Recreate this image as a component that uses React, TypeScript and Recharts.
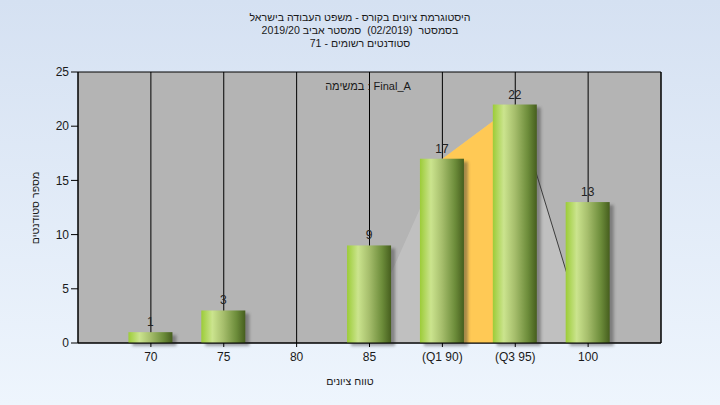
import React from "react";
import {
  ComposedChart,
  Bar,
  Area,
  XAxis,
  YAxis,
  CartesianGrid,
  LabelList,
} from "recharts";

// grade buckets and counts
const grades = [70, 75, 80, 85, 90, 95, 100];
const gradeLabels = ["70", "75", "80", "85", "(Q1 90)", "(Q3 95)", "100"];
const students = [1, 3, 0, 9, 17, 22, 13];
// shaded distribution polygon behind the bars
const spread = [null, null, null, 2, 17, 22, 0];
// interquartile part (Q1..Q3)
const quartileBand = [null, null, null, null, 17, 22, null];
const spreadEdge = [null, null, null, null, null, 22, 0];
const yTicks = [0, 5, 10, 15, 20, 25];

const titleLines = [
  "היסטוגרמת ציונים בקורס - משפט העבודה בישראל",
  "בסמסטר  (02/2019)  סמסטר אביב 2019/20",
  "סטודנטים רשומים - 71",
];
const taskNote = "במשימה : Final_A";
const xTitle = "טווח ציונים";
const yTitle = "מספר סטודנטים";

const data = grades.map((g, i) => ({
  grade: g,
  count: students[i],
  spread: spread[i],
  band: quartileBand[i],
  edge: spreadEdge[i],
}));

const FONT = "'Liberation Sans', Arial, sans-serif";
const tickStyle = { fill: "#1a1a1a", fontSize: 12, fontFamily: FONT };

function CylinderBar(props: any) {
  const { x, y, width, height } = props;
  if (!height || height <= 0) return null;
  return (
    <g>
      <rect
        x={x + 4}
        y={y + 3}
        width={width}
        height={height}
        fill="#3a3a3a"
        opacity={0.45}
        filter="url(#barShadow)"
      />
      <rect x={x} y={y} width={width} height={height} fill="url(#barGrad)" />
    </g>
  );
}

export default function App() {
  return (
    <div
      style={{
        position: "absolute",
        left: 0,
        top: 0,
        width: 720,
        height: 405,
        background: "linear-gradient(180deg, #d5e1f2 0%, #eef5fd 100%)",
      }}
    >
      <ComposedChart
        width={720}
        height={405}
        data={data}
        margin={{ top: 72, right: 0, bottom: 0, left: 0 }}
      >
        <defs>
          <linearGradient id="barGrad" x1="0" y1="0" x2="1" y2="0">
            <stop offset="0%" stopColor="#9ccc38" />
            <stop offset="25%" stopColor="#cbe48e" />
            <stop offset="50%" stopColor="#a6be6c" />
            <stop offset="80%" stopColor="#6c8c3a" />
            <stop offset="100%" stopColor="#465e1e" />
          </linearGradient>
          <filter id="barShadow" x="-20%" y="-20%" width="140%" height="140%">
            <feGaussianBlur stdDeviation="1.5" />
          </filter>
        </defs>
        <CartesianGrid fill="#b4b4b4" stroke="#000" strokeOpacity={1} />
        <XAxis
          dataKey="grade"
          type="number"
          domain={[65, 105]}
          ticks={grades}
          tickFormatter={(v: number) => gradeLabels[grades.indexOf(v)] ?? String(v)}
          height={62}
          tick={tickStyle}
          tickSize={4}
          tickMargin={5}
          axisLine={{ stroke: "#000" }}
          tickLine={{ stroke: "#000" }}
          interval={0}
        />
        <YAxis
          yAxisId="left"
          domain={[0, 25]}
          ticks={yTicks}
          width={78}
          tick={tickStyle}
          tickSize={7}
          tickMargin={2}
          axisLine={{ stroke: "#000" }}
          tickLine={{ stroke: "#000" }}
        />
        <YAxis
          yAxisId="right"
          orientation="right"
          domain={[0, 25]}
          ticks={yTicks}
          width={59}
          tick={tickStyle}
          tickSize={8}
          tickMargin={1}
          axisLine={{ stroke: "#000" }}
          tickLine={{ stroke: "#000" }}
        />
        <Area
          yAxisId="left"
          type="linear"
          dataKey="spread"
          fill="#ffffff"
          fillOpacity={0.17}
          stroke="none"
          isAnimationActive={false}
        />
        <Area
          yAxisId="left"
          type="linear"
          dataKey="band"
          fill="#ffc955"
          fillOpacity={1}
          stroke="none"
          isAnimationActive={false}
        />
        <Area
          yAxisId="left"
          type="linear"
          dataKey="edge"
          fill="none"
          stroke="#3c3c3c"
          strokeWidth={1}
          isAnimationActive={false}
        />
        <Bar
          yAxisId="left"
          dataKey="count"
          barSize={44}
          shape={CylinderBar}
          isAnimationActive={false}
        >
          <LabelList
            dataKey="count"
            position="top"
            offset={6}
            fill="#222"
            fontSize={12}
            fontFamily={FONT}
            formatter={(v: any) => (v ? v : "")}
          />
        </Bar>
      </ComposedChart>

      <svg
        width={720}
        height={405}
        style={{ position: "absolute", left: 0, top: 0, pointerEvents: "none" }}
        fontFamily={FONT}
        fontSize={10.6}
        fill="#1a1a1a"
      >
        {titleLines.map((t, i) => (
          <text
            key={i}
            x={360}
            y={21 + i * 13}
            textAnchor="middle"
            style={{ whiteSpace: "pre" }}
          >
            {t}
          </text>
        ))}
        <text x={368} y={90} textAnchor="middle" fontSize={11}>
          {taskNote}
        </text>
        <text x={350} y={385} textAnchor="middle">
          {xTitle}
        </text>
        <text x={39} y={208} textAnchor="middle" transform="rotate(-90 39 208)">
          {yTitle}
        </text>
      </svg>
    </div>
  );
}
